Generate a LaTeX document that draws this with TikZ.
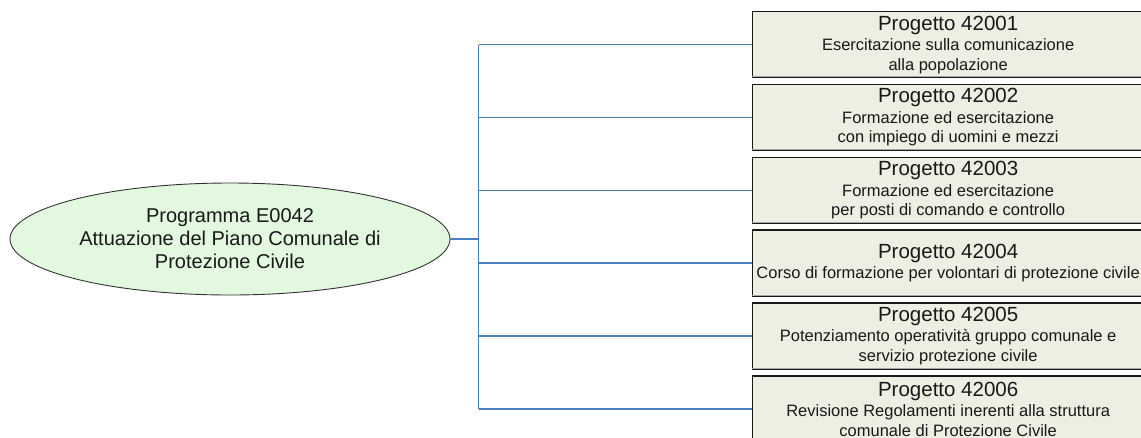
\documentclass[tikz,border=0pt]{standalone}
\usepackage{fontspec}
\setmainfont{Liberation Sans}
\usetikzlibrary{shapes.geometric}
\definecolor{linkblue}{RGB}{74,126,191}
\definecolor{progfill}{RGB}{226,249,224}
\definecolor{projfill}{RGB}{238,238,227}
\newcommand{\projtitle}[1]{{\fontsize{20.5}{22}\selectfont #1}}

\begin{document}
\begin{tikzpicture}[x=1pt,y=-1pt,
    prog/.style={ellipse, draw=black!80, line width=0.9pt, fill=progfill, minimum width=440, minimum height=112, inner sep=0pt, align=center, text=black!90, font=\fontsize{20}{23}\selectfont},
    proj/.style={rectangle, draw=black!90, line width=1.3pt, fill=projfill, minimum width=391, minimum height=66, inner sep=0pt, anchor=west, align=center, text=black!90, font=\fontsize{16.5}{19.5}\selectfont},
    branch/.style={draw=linkblue, line width=1.1pt},
    trunk/.style={draw=linkblue, line width=2pt}]
    \clip (0,0) rectangle (1141,437);
    \useasboundingbox (0,0) rectangle (1141,437);
    \node [prog] (P) at (230,239) {Programma E0042\\Attuazione del Piano Comunale di\\Protezione Civile};
    \coordinate (bus) at (478.5,239);
    \node [proj] (A) at (752,44.75) {\projtitle{Progetto 42001}\\[1pt]Esercitazione sulla comunicazione\\alla popolazione};
    \node [proj] (B) at (752,117.5) {\projtitle{Progetto 42002}\\[1pt]Formazione ed esercitazione\\con impiego di uomini e mezzi};
    \node [proj] (C) at (752,190.5) {\projtitle{Progetto 42003}\\[1pt]Formazione ed esercitazione\\per posti di comando e controllo};
    \node [proj] (D) at (752,263) {\projtitle{Progetto 42004}\\[1pt]Corso di formazione per volontari di protezione civile};
    \node [proj] (E) at (752,336) {\projtitle{Progetto 42005}\\[1pt]Potenziamento operatività gruppo comunale e\\servizio protezione civile};
    \node [proj] (F) at (752,409) {\projtitle{Progetto 42006}\\[1pt]Revisione Regolamenti inerenti alla struttura\\comunale di Protezione Civile};
    % shadow under the boxes
    \draw [gray!70, line width=1pt] ([yshift=1.6]A.south west) -- ([yshift=1.6]A.south east);
    \draw [gray!70, line width=1pt] ([yshift=1.6]B.south west) -- ([yshift=1.6]B.south east);
    \draw [gray!70, line width=1pt] ([yshift=1.6]C.south west) -- ([yshift=1.6]C.south east);
    \draw [gray!70, line width=1pt] ([yshift=1.6]D.south west) -- ([yshift=1.6]D.south east);
    \draw [gray!70, line width=1pt] ([yshift=1.6]E.south west) -- ([yshift=1.6]E.south east);
    % connectors
    \draw [trunk] (P.east) -- (bus);
    \draw [branch] (bus |- A.west) -- (bus |- F.west);
    \draw [branch] (bus |- A.west) -- (A.west);
    \draw [branch] (bus |- B.west) -- (B.west);
    \draw [branch] (bus |- C.west) -- (C.west);
    \draw [branch] (bus |- D.west) -- (D.west);
    \draw [branch] (bus |- E.west) -- (E.west);
    \draw [branch] (bus |- F.west) -- (F.west);
\end{tikzpicture}
\end{document}
